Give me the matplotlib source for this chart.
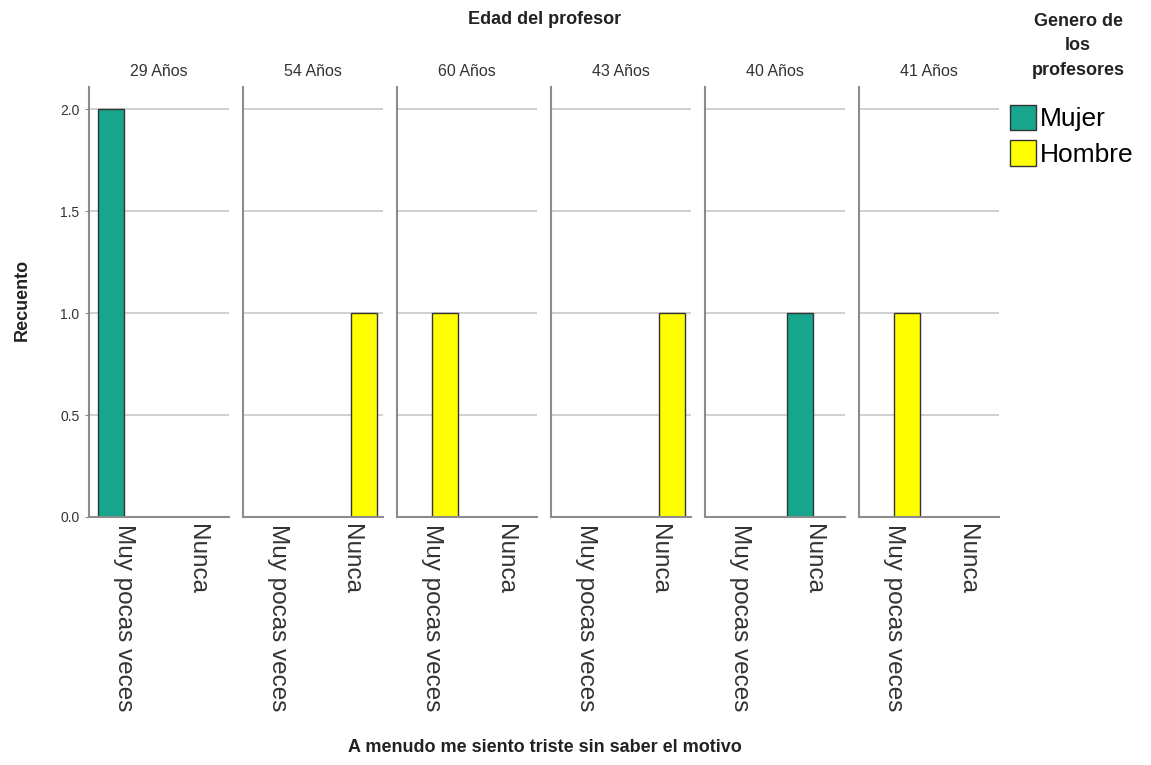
import matplotlib

matplotlib.use("Agg")
import matplotlib.pyplot as plt
import numpy as np
from matplotlib.patches import Patch

plt.rcParams["font.family"] = ["Liberation Sans", "DejaVu Sans"]

ages = ["29 Años", "54 Años", "60 Años", "43 Años", "40 Años", "41 Años"]
categories = ["Muy pocas veces", "Nunca"]
mujer = [[2, 0], [0, 0], [0, 0], [0, 0], [0, 1], [0, 0]]
hombre = [[0, 0], [0, 1], [1, 0], [0, 1], [0, 0], [1, 0]]
yticks = [0.0, 0.5, 1.0, 1.5, 2.0]

TEAL = "#17a58e"
YELLOW = "#ffff00"
EDGE = "#333333"
SPINE = "#8c8c8c"
GRID = "#c8c8c8"

W, H = 1151, 765
fig = plt.figure(figsize=(W / 100, H / 100), dpi=100)

x = np.arange(len(categories))
bw = 0.36
left0, step, pw = 89, 154, 140
bottom, top = 517, 87

for i, age in enumerate(ages):
    ax = fig.add_axes([(left0 + i * step) / W, (H - bottom) / H, pw / W, (bottom - top) / H])
    ax.set_axisbelow(True)
    for y in yticks[1:]:
        ax.axhline(y, color=GRID, lw=1.2, zorder=0)
    ax.bar(x - bw / 2, mujer[i], bw, color=TEAL, edgecolor=EDGE, lw=1.0, zorder=2)
    ax.bar(x + bw / 2, hombre[i], bw, color=YELLOW, edgecolor=EDGE, lw=1.0, zorder=2)
    ax.set_xlim(-0.48, 1.44)
    ax.set_ylim(0, 2.11)
    for s in ("top", "right"):
        ax.spines[s].set_visible(False)
    for s in ("left", "bottom"):
        ax.spines[s].set_color(SPINE)
        ax.spines[s].set_linewidth(1.5)
    ax.set_xticks(x)
    ax.set_xticklabels(categories, rotation=-90, fontsize=17.5, color="#333333")
    ax.tick_params(axis="x", length=0, pad=5)
    ax.set_yticks(yticks)
    if i == 0:
        ax.set_yticklabels([f"{v:.1f}" for v in yticks], fontsize=10, color="#333333")
        ax.tick_params(axis="y", length=3, color=SPINE, pad=4)
    else:
        ax.tick_params(axis="y", length=0, labelleft=False)
    ax.set_title(age, fontsize=11.5, color="#333333", pad=8)

fig.text(545 / W, 1 - 20 / H, "Edad del profesor", ha="center", va="center",
         fontsize=13, fontweight="bold", color="#222222")
fig.text(545 / W, 1 - 748 / H, "A menudo me siento triste sin saber el motivo", ha="center",
         va="center", fontsize=13, fontweight="bold", color="#222222")
fig.text(22 / W, 1 - 300 / H, "Recuento", ha="center", va="center", rotation=90,
         fontsize=13, fontweight="bold", color="#222222")

fig.text(1078 / W, 1 - 46 / H, "Genero de\nlos\nprofesores", ha="center", va="center",
         fontsize=13, fontweight="bold", color="#222222", linespacing=1.55)
handles = [Patch(facecolor=TEAL, edgecolor=EDGE, label="Mujer"),
           Patch(facecolor=YELLOW, edgecolor=EDGE, label="Hombre")]
fig.legend(handles=handles, loc="upper left", bbox_to_anchor=(999 / W, 1 - 94 / H),
           frameon=False, fontsize=19, handlelength=1.0, handleheight=1.1,
           handletextpad=0.15, labelspacing=0.35, borderaxespad=0)

fig.savefig("out.png", dpi=100)
